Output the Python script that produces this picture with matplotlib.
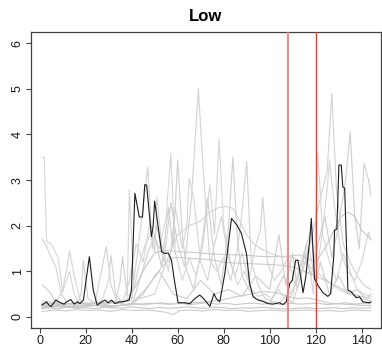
import numpy as np
import matplotlib
matplotlib.use("Agg")
import matplotlib.pyplot as plt

plt.rcParams["font.family"] = ["Liberation Sans", "DejaVu Sans"]

# ── datos: serie destacada (negra) ──────────────────────────────────────────
black_x = [1, 3, 4, 5, 7, 9, 10.6, 11.7, 13.5, 15, 16.4, 17.5, 19, 21.6, 23.3, 25,
           27, 28.4, 29.8, 31.3, 32.7, 34.6, 36.3, 38.9, 39.9, 41.4, 43.3, 44.7,
           45.7, 46.5, 48.6, 49.3, 50, 51.5, 53, 54.4, 55.9, 57.3, 58.8, 60.2,
           63.1, 65.3, 67.4, 69.6, 71.3, 74, 75.8, 76.8, 78.3, 80.5, 83.4, 85.8,
           87.7, 89.9, 91.3, 92.8, 94.9, 97.1, 99.3, 101.4, 104.3, 105.8, 107.2,
           108.7, 109.8, 111.3, 112.3, 113.5, 114.5, 115.6, 117.4, 118.1, 119.5,
           121, 123.2, 125.3, 126.5, 127.9, 128.2, 129.2, 130.1, 131.1, 131.8,
           132.6, 133.6, 134, 135.5, 137.6, 139.1, 140.5, 143.4, 144]
black_y = [0.26, 0.33, 0.26, 0.23, 0.37, 0.31, 0.28, 0.33, 0.38, 0.28, 0.33, 0.29,
           0.37, 1.32, 0.59, 0.26, 0.33, 0.37, 0.31, 0.37, 0.29, 0.33, 0.33, 0.37,
           0.59, 2.71, 2.19, 2.19, 2.9, 2.89, 1.76, 1.98, 2.54, 1.98, 1.43, 1.39,
           1.4, 1.24, 0.73, 0.31, 0.31, 0.29, 0.40, 0.48, 0.40, 0.23, 0.51, 0.40,
           0.33, 0.95, 2.16, 2.01, 1.83, 1.39, 0.73, 0.44, 0.37, 0.34, 0.29, 0.28,
           0.31, 0.27, 0.33, 0.73, 0.80, 1.24, 1.24, 0.88, 0.53, 0.84, 1.68, 2.16,
           0.84, 0.69, 0.53, 0.45, 0.51, 1.35, 1.9, 1.92, 3.33, 3.33, 2.85, 2.82,
           1.24, 0.59, 0.55, 0.42, 0.44, 0.33, 0.31, 0.33]

# ── datos: series de fondo (grises) ─────────────────────────────────────────
g1_x = [1, 2, 3, 5, 8, 10, 11, 13, 15, 17, 20, 23, 26, 29, 32, 35, 38, 39, 41, 43,
        46, 49, 52, 55, 57, 59, 62, 65, 68, 71, 74, 76, 78, 80, 83, 86, 89, 92, 95,
        98, 101, 104, 107, 110, 113, 116, 119, 121, 123, 126, 129, 132, 135, 138,
        141, 144]
g1_y = [3.5, 3.5, 1.65, 1.6, 1.3, 0.55, 0.7, 1.0, 0.5, 0.3, 0.25, 0.3, 0.28, 0.3,
        0.32, 0.3, 0.35, 2.78, 0.6, 1.1, 1.6, 1.9, 1.5, 2.2, 3.58, 1.4, 0.8, 1.3,
        0.9, 1.6, 2.9, 1.8, 3.91, 2.0, 1.2, 0.7, 1.0, 0.6, 0.45, 0.5, 0.4, 0.6,
        0.35, 0.5, 1.1, 1.6, 0.5, 3.6, 1.8, 1.2, 0.8, 1.4, 1.0, 0.6, 0.5, 0.45]

g2_x = [1, 3, 5, 7, 9, 10, 12, 15, 18, 21, 24, 26, 28, 29, 31, 34, 37, 40, 42, 44,
        47, 49, 51, 54, 57, 60, 63, 66, 69, 71, 74, 77, 80, 83, 86, 88, 90, 92, 95,
        98, 101, 104, 107, 110, 113, 116, 119, 122, 125, 127, 129, 132, 135, 138,
        141, 144]
g2_y = [1.72, 1.55, 1.3, 1.1, 0.6, 0.45, 0.3, 0.25, 0.3, 0.28, 0.3, 0.8, 1.3, 1.54,
        0.7, 0.3, 0.35, 0.4, 1.2, 2.0, 3.29, 1.5, 2.0, 1.2, 2.5, 1.6, 1.1, 2.6, 5.0,
        3.3, 1.24, 1.0, 1.3, 0.8, 1.5, 2.3, 3.41, 1.2, 0.7, 0.4, 0.35, 0.3, 0.45,
        0.3, 0.8, 1.3, 1.9, 2.6, 3.2, 4.9, 2.8, 1.6, 1.2, 0.9, 0.7, 0.6]

g3_x = [1, 3, 5, 7, 10, 13, 16, 18, 19, 21, 24, 27, 30, 33, 35, 36, 38, 41, 44, 47,
        50, 53, 56, 58, 60, 62, 64, 67, 70, 73, 76, 79, 82, 84, 86, 88, 91, 94, 97,
        100, 103, 106, 109, 112, 115, 118, 121, 124, 127, 130, 133, 135, 137, 139,
        141, 143, 144]
g3_y = [0.7, 0.62, 0.5, 0.3, 0.25, 0.22, 0.25, 0.5, 1.24, 0.4, 0.3, 0.25, 0.3, 0.35,
        0.8, 1.32, 0.5, 0.4, 0.9, 1.4, 1.8, 1.1, 2.4, 1.5, 3.44, 1.8, 1.0, 0.6, 1.4,
        2.6, 1.3, 0.7, 1.9, 3.51, 1.7, 0.9, 0.6, 0.4, 0.35, 0.3, 0.6, 0.9, 0.5, 0.8,
        1.4, 0.9, 1.6, 2.2, 1.3, 2.0, 3.0, 4.06, 2.2, 1.5, 3.36, 3.0, 2.67]

g4_x = [1, 4, 7, 10, 12, 13, 15, 18, 21, 24, 27, 30, 31, 33, 36, 39, 42, 45, 48, 50,
        51, 53, 56, 59, 62, 64, 65, 67, 70, 73, 76, 79, 82, 85, 88, 91, 94, 96, 97,
        99, 102, 105, 108, 111, 114, 117, 120, 123, 125, 126, 128, 131, 134, 137,
        140, 143, 144]
g4_y = [0.3, 0.25, 0.3, 0.6, 1.1, 1.45, 0.9, 0.3, 0.25, 0.3, 0.35, 0.8, 1.35, 0.5,
        0.3, 0.8, 1.6, 1.2, 2.1, 1.4, 2.63, 1.6, 1.0, 2.4, 1.5, 2.0, 3.03, 2.6, 1.2,
        0.8, 1.6, 2.2, 1.3, 0.9, 1.4, 0.8, 1.6, 1.9, 2.63, 1.2, 0.8, 1.0, 1.3, 0.7,
        1.2, 1.5, 0.8, 1.9, 2.8, 3.44, 2.5, 1.4, 1.0, 0.8, 1.2, 1.86, 1.68]

s1_x = [1, 10, 20, 30, 38, 42, 46, 50, 53, 56, 60, 65, 70, 75, 80, 85, 90, 95, 100,
        105, 110, 113, 116, 120, 124, 128, 131, 134, 137, 140, 144]
s1_y = [0.3, 0.28, 0.3, 0.32, 0.35, 0.7, 1.1, 1.4, 1.45, 1.45, 1.43, 1.42, 1.4, 1.38,
        1.37, 1.36, 1.35, 1.33, 1.32, 1.32, 1.34, 1.36, 1.3, 1.2, 1.5, 1.9, 2.2, 2.3,
        2.2, 1.9, 1.7]

s2_x = [1, 10, 20, 30, 40, 45, 50, 55, 58, 62, 66, 70, 75, 80, 85, 90, 95, 100, 105,
        110, 115, 120, 124, 128, 132, 136, 140, 144]
s2_y = [0.25, 0.22, 0.25, 0.24, 0.27, 0.5, 0.9, 1.2, 1.3, 1.3, 1.28, 1.27, 1.25, 1.2,
        1.18, 1.17, 1.16, 1.15, 1.13, 1.1, 1.0, 0.9, 0.8, 0.7, 0.6, 0.5, 0.45, 0.4]

s3_x = [1, 10, 20, 30, 40, 50, 55, 60, 65, 70, 74, 78, 81, 84, 87, 90, 93, 96, 100,
        105, 110, 115, 120, 125, 130, 135, 140, 144]
s3_y = [0.35, 0.3, 0.3, 0.32, 0.35, 0.5, 1.2, 1.8, 2.0, 2.1, 2.3, 2.4, 2.42, 2.38,
        2.1, 1.8, 1.6, 1.5, 1.4, 1.32, 1.3, 1.2, 1.0, 0.8, 0.6, 0.5, 0.4, 0.35]

m1_x = [1, 8, 16, 24, 32, 40, 46, 52, 58, 64, 70, 76, 82, 88, 94, 100, 104, 107,
        110, 112, 114, 116, 118, 120, 122, 126, 130, 134, 138, 142, 144]
m1_y = [0.2, 0.22, 0.2, 0.25, 0.22, 0.3, 0.6, 1.0, 0.5, 0.4, 0.8, 0.5, 0.6, 0.45,
        0.9, 0.6, 1.8, 0.7, 1.4, 0.6, 1.0, 1.6, 1.9, 0.7, 1.2, 0.5, 0.9, 0.5, 0.6,
        0.4, 0.5]

b1_x = [1, 4, 8, 12, 16, 20, 24, 28, 32, 36, 40, 44, 48, 52, 56, 60, 64, 68, 72, 76,
        80, 84, 88, 92, 96, 100, 104, 108, 112, 116, 120, 124, 128, 132, 136, 140, 144]
b1_y = [0.18, 0.2, 0.17, 0.22, 0.19, 0.2, 0.18, 0.21, 0.2, 0.19, 0.22, 0.2, 0.18,
        0.21, 0.19, 0.2, 0.22, 0.2, 0.19, 0.21, 0.2, 0.18, 0.2, 0.19, 0.21, 0.2,
        0.18, 0.17, 0.19, 0.2, 0.18, 0.19, 0.2, 0.18, 0.2, 0.19, 0.2]

b2_x = [1, 5, 9, 13, 17, 21, 25, 29, 33, 37, 41, 45, 49, 53, 57, 61, 65, 69, 73, 77,
        81, 85, 89, 93, 97, 101, 105, 109, 113, 117, 121, 125, 129, 133, 137, 141, 144]
b2_y = [0.28, 0.3, 0.26, 0.29, 0.31, 0.27, 0.3, 0.28, 0.32, 0.27, 0.3, 0.26, 0.29,
        0.31, 0.28, 0.3, 0.27, 0.29, 0.31, 0.28, 0.3, 0.27, 0.29, 0.3, 0.28, 0.31,
        0.27, 0.3, 0.28, 0.29, 0.3, 0.27, 0.29, 0.31, 0.28, 0.3, 0.29]

b3_x = [1, 6, 11, 16, 21, 26, 31, 36, 41, 46, 51, 55, 58, 61, 66, 71, 76, 81, 86, 91,
        96, 101, 106, 111, 116, 121, 126, 131, 136, 141, 144]
b3_y = [0.12, 0.15, 0.13, 0.16, 0.14, 0.15, 0.12, 0.16, 0.14, 0.15, 0.13, 0.1, 0.05,
        0.14, 0.15, 0.13, 0.16, 0.14, 0.15, 0.12, 0.14, 0.15, 0.13, 0.14, 0.15, 0.13,
        0.14, 0.12, 0.15, 0.14, 0.13]

b4_x = [1, 8, 16, 24, 32, 40, 48, 56, 64, 72, 80, 86, 92, 96, 100, 104, 108, 112,
        116, 120, 126, 132, 138, 144]
b4_y = [0.22, 0.25, 0.23, 0.26, 0.24, 0.27, 0.3, 0.28, 0.3, 0.33, 0.38, 0.45, 0.5,
        0.55, 0.55, 0.52, 0.45, 0.4, 0.42, 0.38, 0.3, 0.28, 0.26, 0.25]

GRAY_SERIES = [(g1_x, g1_y), (g2_x, g2_y), (g3_x, g3_y), (g4_x, g4_y),
               (s1_x, s1_y), (s2_x, s2_y), (s3_x, s3_y), (m1_x, m1_y),
               (b1_x, b1_y), (b2_x, b2_y), (b3_x, b3_y), (b4_x, b4_y)]
GRAY_COLS = ["#d6d6d6", "#d2d2d2", "#cfcfcf", "#d4d4d4", "#c9c9c9", "#cbcbcb",
             "#d4d4d4", "#cdcdcd", "#c6c6c6", "#c8c8c8", "#cccccc", "#c9c9c9"]

red_lines = [108, 120]
x_ticks = [0, 20, 40, 60, 80, 100, 120, 140]
y_ticks = [0, 1, 2, 3, 4, 5, 6]

# ── figura ──────────────────────────────────────────────────────────────────
W, H = 382, 346
fig = plt.figure(figsize=(W / 100, H / 100), dpi=100)
ax = fig.add_axes([30.7 / W, 1 - 328.3 / H, (381 - 30.7) / W, (328.3 - 32.3) / H])

for (xs, ys), c in zip(GRAY_SERIES, GRAY_COLS):
    ax.plot(xs, ys, color=c, lw=0.8, zorder=1)

ax.plot(black_x, black_y, color="#1e1e1e", lw=0.8, zorder=3)

ax.axvline(red_lines[0], color="#f47c7c", lw=1.3, zorder=4)
ax.axvline(red_lines[1], color="#ff3030", lw=1.0, zorder=4)

ax.set_xlim(-3.9, 148.4)
ax.set_ylim(-0.25, 6.24)
ax.set_xticks(x_ticks)
ax.set_yticks(y_ticks)
ax.set_yticklabels([str(v) for v in y_ticks], rotation=90, va="center")
ax.tick_params(axis="both", length=3.5, width=0.8, color="#404040",
               labelsize=9, labelcolor="#1a1a1a")
ax.tick_params(axis="x", pad=1)
ax.tick_params(axis="y", pad=1.5)
for sp in ax.spines.values():
    sp.set_color("#404040")
    sp.set_linewidth(0.9)

ax.set_title("Low", fontsize=12, fontweight="bold", pad=8)

fig.savefig("out.png", dpi=100)
